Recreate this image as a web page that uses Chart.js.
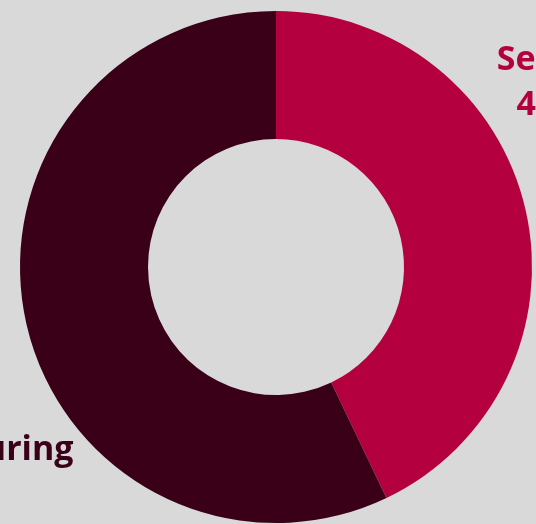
<!DOCTYPE html>
<html>
<head>
<meta charset="utf-8">
<script src="https://cdn.jsdelivr.net/npm/chart.js@4"></script>
<style>
  html, body { margin: 0; padding: 0; width: 536px; height: 524px; overflow: hidden; background: #d9d9d9; }
  #wrap { position: absolute; left: -200px; top: -209px; width: 952px; height: 952px; }
</style>
</head>
<body>
<div id="wrap"><canvas id="donutChart" width="952" height="952"></canvas></div>
<script>
// chart data
var categories = ["Services", "Manufacturing"];
var shares = [42.9, 57.1];
var sliceColors = ["#b5003f", "#3a0018"];

// labels drawn outside the ring, text block anchored on its inner side
var outsideLabels = {
  id: 'outsideLabels',
  afterDatasetsDraw: function(chart, args, opts) {
    var ctx = chart.ctx;
    var meta = chart.getDatasetMeta(0);
    meta.data.forEach(function(arc, i) {
      var p = arc.getProps(['x', 'y', 'outerRadius'], true);
      var a = opts.anchors[i];
      var ax = p.x + a.dx * p.outerRadius;
      var ay = p.y + a.dy * p.outerRadius;
      var lines = [categories[i], shares[i].toFixed(1) + '%'];
      ctx.save();
      ctx.font = opts.font;
      ctx.fillStyle = sliceColors[i];
      ctx.textAlign = 'center';
      ctx.textBaseline = 'alphabetic';
      var w = Math.max.apply(null, lines.map(function(l) { return ctx.measureText(l).width; }));
      var left = a.side === 'left' ? ax - w : ax;
      lines.forEach(function(l, k) {
        ctx.fillText(l, left + w / 2, ay + k * opts.lineHeight);
      });
      ctx.restore();
    });
  }
};

var ctxD = document.getElementById("donutChart").getContext('2d');
var myDonut = new Chart(ctxD, {
  type: 'doughnut',
  data: {
    labels: categories,
    datasets: [{
      data: shares,
      backgroundColor: sliceColors,
      borderWidth: 0
    }]
  },
  options: {
    responsive: false,
    animation: false,
    cutout: '50%',
    layout: { padding: 220 },
    plugins: {
      legend: { display: false },
      tooltip: { enabled: false },
      outsideLabels: {
        font: 'bold 34px "Open Sans"',
        lineHeight: 45,
        anchors: [
          { dx: 0.862, dy: -0.771, side: 'right' },
          { dx: -0.791, dy: 0.752, side: 'left' }
        ]
      }
    }
  },
  plugins: [outsideLabels]
});
</script>
</body>
</html>
